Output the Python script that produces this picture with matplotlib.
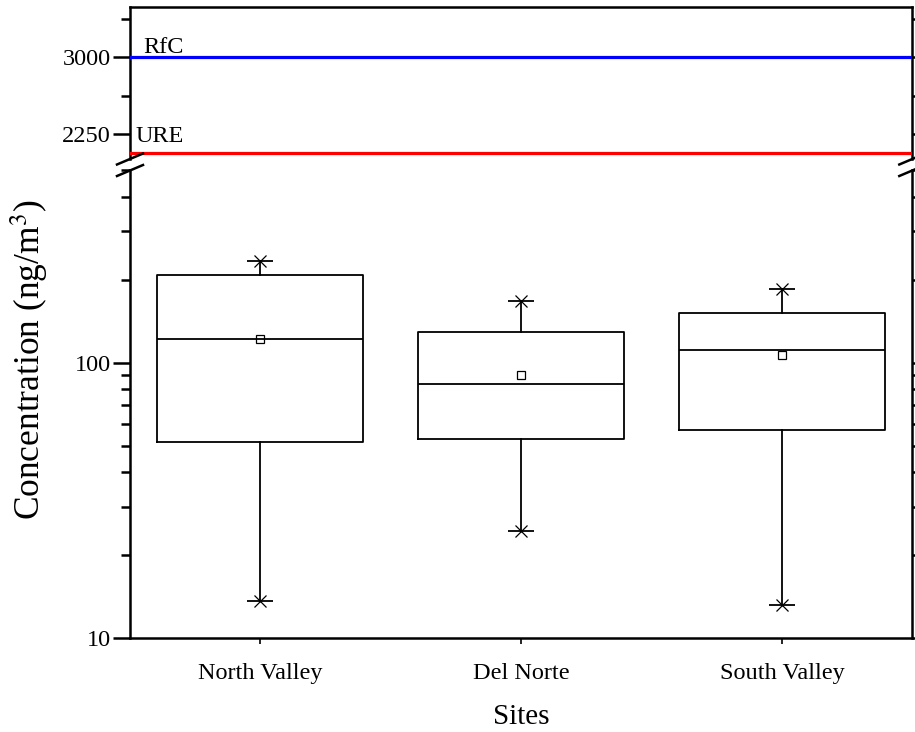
import matplotlib
matplotlib.use("Agg")
import matplotlib.pyplot as plt
from matplotlib.lines import Line2D
from matplotlib.ticker import FixedLocator, LogLocator, NullFormatter, FixedFormatter

plt.rcParams['font.family'] = ['Liberation Serif', 'DejaVu Serif']
plt.rcParams['mathtext.fontset'] = 'stix'

# ---- data ----
sites = ["North Valley", "Del Norte", "South Valley"]
whis_lo = [13.6, 24.6, 13.2]
q1 = [51.4, 52.7, 57.0]
median = [121.9, 83.7, 110.9]
q3 = [208.0, 129.0, 151.5]
whis_hi = [234.0, 168.0, 185.0]
means = [122.0, 90.0, 106.4]

ref_names = ["RfC", "URE"]
ref_values = [3000, 2060]
ref_colors = ["#0000ff", "#ff0000"]

W, H = 915, 732
fig = plt.figure(figsize=(W / 100, H / 100), dpi=100)

def fr(x0, y0, x1, y1):
    return [x0 / W, 1 - y1 / H, (x1 - x0) / W, (y1 - y0) / H]

ax_top = fig.add_axes(fr(130, 6.7, 912.3, 159))
ax = fig.add_axes(fr(130, 170, 912.3, 638.3))

spine_lw = 1.8
for a in (ax_top, ax):
    for s in a.spines.values():
        s.set_linewidth(spine_lw)
ax_top.spines['bottom'].set_visible(False)
ax.spines['top'].set_visible(False)

positions = [1, 2, 3]
stats = []
for i, name in enumerate(sites):
    stats.append(dict(label=name, whislo=whis_lo[i], q1=q1[i], med=median[i],
                      q3=q3[i], whishi=whis_hi[i], mean=means[i], fliers=[]))

box_lw = 1.3
ax.bxp(stats, positions=positions, widths=0.79, showcaps=False, showmeans=False,
       showfliers=False, patch_artist=False,
       boxprops=dict(color='black', linewidth=box_lw),
       whiskerprops=dict(color='black', linewidth=box_lw),
       medianprops=dict(color='black', linewidth=box_lw))
ax.plot(positions, means, linestyle='none', marker='s', markersize=5.5,
        markerfacecolor='white', markeredgecolor='black', markeredgewidth=0.9)
for vals in (whis_lo, whis_hi):
    ax.plot(positions, vals, linestyle='none', marker='_', markersize=19,
            markeredgewidth=1.3, color='black')
    ax.plot(positions, vals, linestyle='none', marker='x', markersize=8,
            markeredgewidth=0.9, color='black')

ax.set_yscale('log')
ax.set_ylim(10, 500)
ax.set_xlim(0.5, 3.5)
ax.yaxis.set_major_locator(FixedLocator([10, 100]))
ax.yaxis.set_major_formatter(FixedFormatter(['10', '100']))
ax.yaxis.set_minor_locator(LogLocator(base=10, subs=range(2, 10)))
ax.yaxis.set_minor_formatter(NullFormatter())
ax.set_xticks(positions)
ax.set_xticklabels(sites)

ax_top.set_ylim(2000, 3500)
ax_top.set_xlim(0.5, 3.5)
ax_top.set_yticks([2250, 3000])
ax_top.set_yticks([2625, 3375], minor=True)
ax_top.set_xticks([])

for a in (ax_top, ax):
    a.tick_params(axis='y', which='major', direction='out', length=12, width=1.8,
                  labelsize=17.5, left=True, right=True, pad=2)
    a.tick_params(axis='y', which='minor', direction='out', length=6.5, width=1.8,
                  left=True, right=True)
ax.tick_params(axis='x', which='major', direction='out', length=4, width=1.2,
               labelsize=17.5, pad=14)
ax.tick_params(axis='x', which='minor', bottom=False)

text_x = [0.55, 0.523]
text_y = [3046, 2165]
for name, val, col, tx, ty in zip(ref_names, ref_values, ref_colors, text_x, text_y):
    ax_top.axhline(val, color=col, linewidth=2.3, zorder=3)
    ax_top.text(tx, ty, name, fontsize=17.5, ha='left', va='baseline', color='black')

fig.text(521 / W, 1 - 717 / H, "Sites", fontsize=21, ha='center', va='center')
fig.text(30 / W, 1 - 360 / H, r"Concentration (ng/m$^3$)", rotation=90,
         fontsize=25.5, ha='center', va='center')

# break marks
def slash(xc, yc):
    fig.add_artist(Line2D([(xc - 13) / W, (xc + 13) / W],
                          [1 - (yc + 5.5) / H, 1 - (yc - 5.5) / H],
                          color='black', linewidth=1.8, transform=fig.transFigure))
for xc in (130, 912.3):
    slash(xc, 159)
    slash(xc, 170.5)

fig.savefig("out.png", dpi=100)
